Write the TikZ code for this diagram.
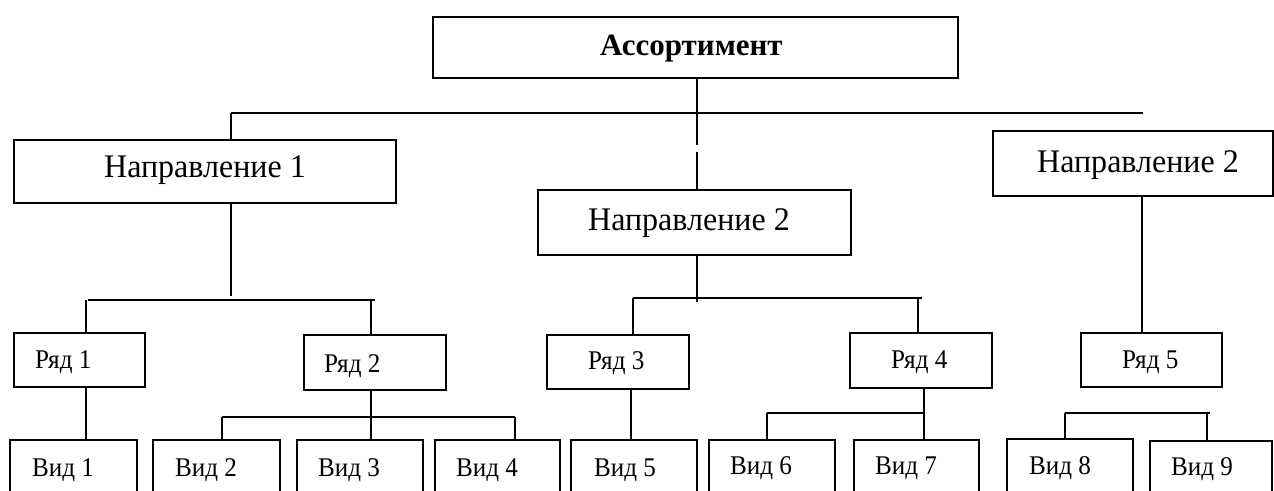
\documentclass[tikz,border=0pt]{standalone}
\usepackage{fontspec}
\setmainfont{Liberation Serif}
\newfontfamily\labelfont[FakeStretch=0.93]{Liberation Serif}
\newfontfamily\titlefont[FakeStretch=0.97]{Liberation Serif}
\tikzset{
  box/.style={draw, line width=1.3pt, inner sep=0pt, rectangle},
  wire/.style={line width=1.3pt},
  big/.style={anchor=base west, inner sep=0pt, font=\titlefont\fontsize{33}{36}\selectfont},
  small/.style={anchor=base west, inner sep=0pt, font=\labelfont\fontsize{27}{30}\selectfont},
  head/.style={anchor=base west, inner sep=0pt, font=\bfseries\fontsize{31}{36}\selectfont},
}
% box from (x1,y1) to (x2,y2), y measured downwards
\newcommand\mkbox[5]{\node[box, minimum width={#4-#2}, minimum height={#5-#3}] (#1) at ({(#2+#4)/2},{(#3+#5)/2}) {};}
\begin{document}
\begin{tikzpicture}[x=1pt,y=-1pt]
\useasboundingbox (0,0) rectangle (1274,490);
\clip (0,0) rectangle (1274,490);
\fill[white] (0,0) rectangle (1274,490);

% boxes
\mkbox{A}{433}{17}{958}{78}
\mkbox{N1}{14}{140}{396}{203}
\mkbox{N2m}{538}{190}{851}{255}
\mkbox{N2r}{993}{131}{1273}{196}
\mkbox{R1}{14}{333}{145}{387}
\mkbox{R2}{304}{335}{446}{390}
\mkbox{R3}{547}{335}{689}{389}
\mkbox{R4}{850}{333}{992}{388}
\mkbox{R5}{1081}{333}{1222}{387}
\mkbox{V1}{10}{440}{137}{520}
\mkbox{V2}{153}{440}{280}{520}
\mkbox{V3}{297}{440}{423}{520}
\mkbox{V4}{435}{440}{560}{520}
\mkbox{V5}{571}{440}{697}{520}
\mkbox{V6}{709}{440}{835}{520}
\mkbox{V7}{854}{440}{979}{520}
\mkbox{V8}{1007}{439}{1133}{520}
\mkbox{V9}{1150}{441}{1272}{520}

% labels
\node[head] (tA) at (600,55) {Ассортимент};
\node[big] (tN1) at (104,177) {Направление 1};
\node[big] (tN2m) at (588,230) {Направление 2};
\node[big] (tN2r) at (1037,172) {Направление 2};
\node[small] (tR1) at (35,368) {Ряд 1};
\node[small] (tR2) at (324,372) {Ряд 2};
\node[small] (tR3) at (588,369) {Ряд 3};
\node[small] (tR4) at (891,368) {Ряд 4};
\node[small] (tR5) at (1122,368) {Ряд 5};
\node[small] (tV1) at (32,476) {Вид 1};
\node[small] (tV2) at (175,476) {Вид 2};
\node[small] (tV3) at (318,476) {Вид 3};
\node[small] (tV4) at (456,476) {Вид 4};
\node[small] (tV5) at (594,476) {Вид 5};
\node[small] (tV6) at (730,474) {Вид 6};
\node[small] (tV7) at (875,474) {Вид 7};
\node[small] (tV8) at (1029,474) {Вид 8};
\node[small] (tV9) at (1171,475) {Вид 9};

% junction points
\coordinate (b0L) at (231,113);
\coordinate (b0R) at (1143,113);
\coordinate (g1) at (697,145);
\coordinate (g2) at (697,152);
\coordinate (n1e) at (231,296);
\coordinate (b1L) at (88,300);
\coordinate (b1R) at (375,300);
\coordinate (b1a) at (86,300);
\coordinate (b1b) at (371,300);
\coordinate (b2L) at (222,417);
\coordinate (b2R) at (515,417);
\coordinate (n2e) at (697,302);
\coordinate (b3L) at (633,298);
\coordinate (b3R) at (922,298);
\coordinate (b3b) at (918,298);
\coordinate (r3x) at (631,400);
\coordinate (b4L) at (767,413);
\coordinate (b4R) at (924,413);
\coordinate (r5x) at (1142,300);
\coordinate (b5L) at (1065,413);
\coordinate (b5R) at (1210,413);
\coordinate (b5b) at (1207,413);

% connectors
\draw[wire] (A.south -| g1) -- (g1);
\draw[wire] (g2) -- (g2 |- N2m.north);
\draw[wire] (b0L) -- (b0R);
\draw[wire] (b0L) -- (b0L |- N1.north);

\draw[wire] (N1.south -| n1e) -- (n1e);
\draw[wire] (b1L) -- (b1R);
\draw[wire] (b1a) -- (b1a |- R1.north);
\draw[wire] (b1b) -- (b1b |- R2.north);
\draw[wire] (R1.south -| b1a) -- (b1a |- V1.north);
\draw[wire] (R2.south -| b1b) -- (b1b |- V3.north);
\draw[wire] (b2L) -- (b2R);
\draw[wire] (b2L) -- (b2L |- V2.north);
\draw[wire] (b2R) -- (b2R |- V4.north);

\draw[wire] (N2m.south -| n2e) -- (n2e);
\draw[wire] (b3L) -- (b3R);
\draw[wire] (b3L) -- (b3L |- R3.north);
\draw[wire] (b3b) -- (b3b |- R4.north);
\draw[wire] (R3.south -| r3x) -- (r3x |- V5.north);
\draw[wire] (R4.south -| b4R) -- (b4R |- V7.north);
\draw[wire] (b4L) -- (b4R);
\draw[wire] (b4L) -- (b4L |- V6.north);

\draw[wire] (N2r.south -| r5x) -- (r5x |- R5.north);
\draw[wire] (b5L) -- (b5R);
\draw[wire] (b5L) -- (b5L |- V8.north);
\draw[wire] (b5b) -- (b5b |- V9.north);
\end{tikzpicture}
\end{document}
